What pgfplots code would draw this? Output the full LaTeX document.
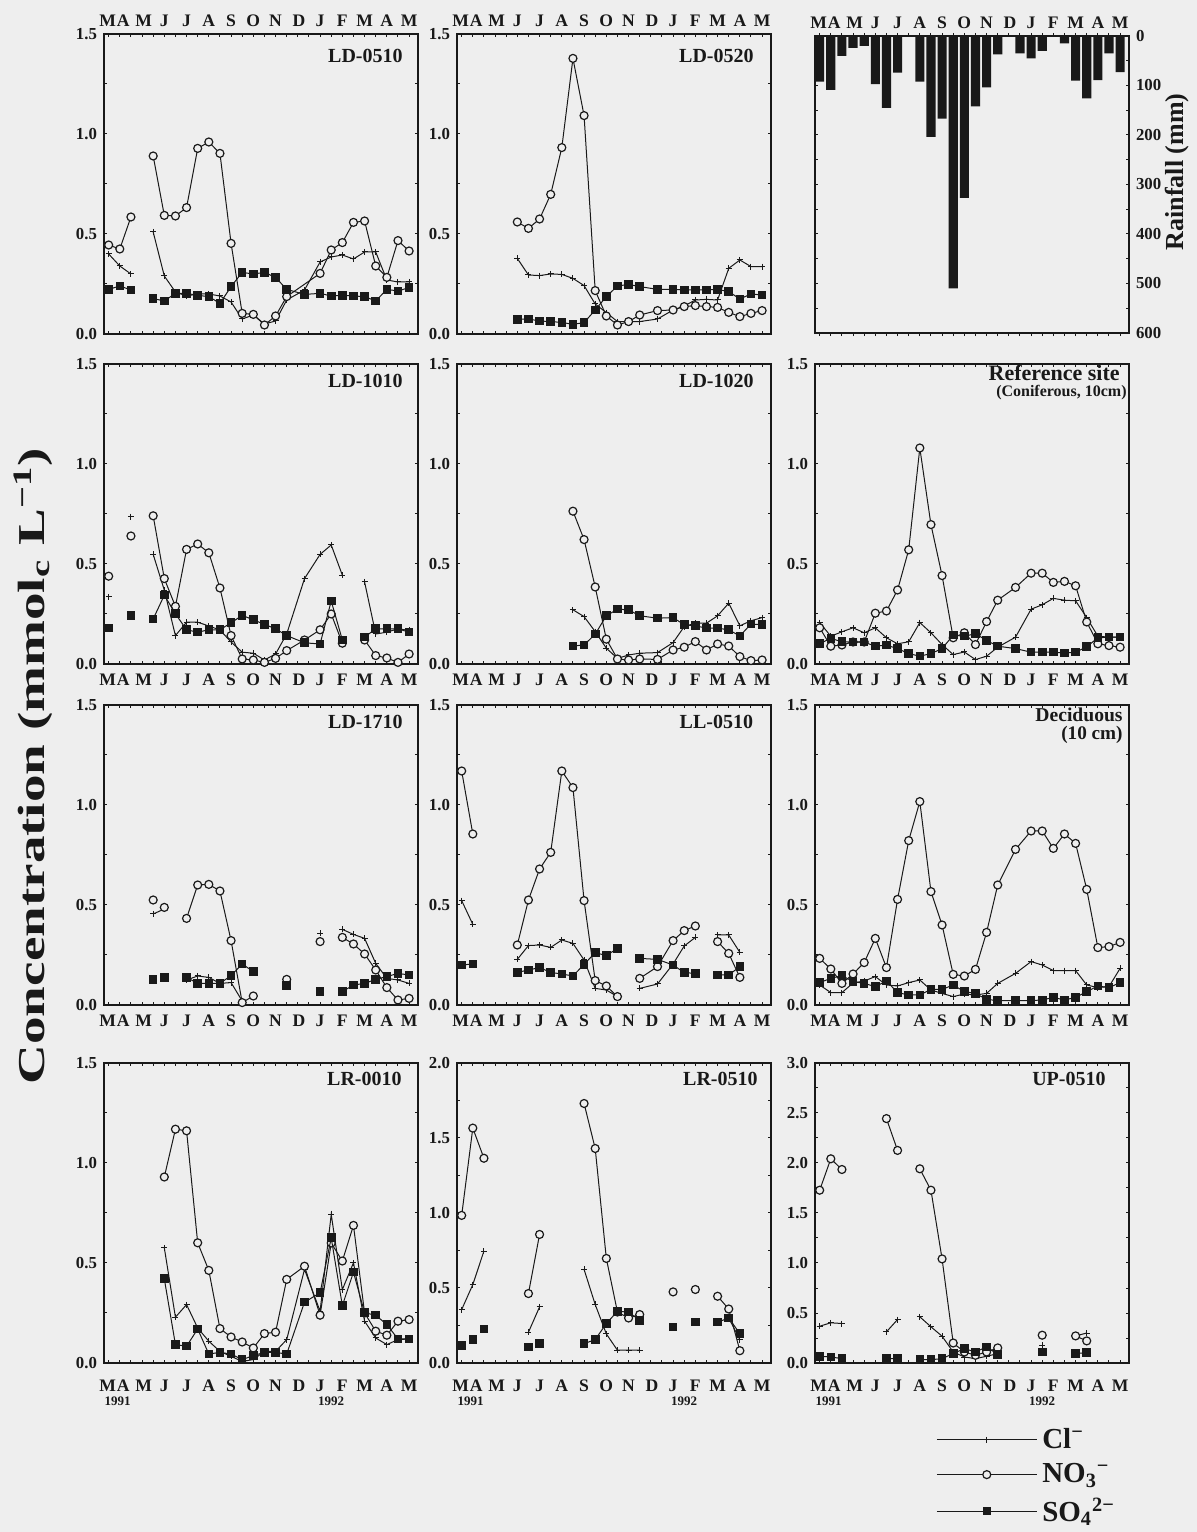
\documentclass[border=0pt]{standalone}
\usepackage{fontspec}
\setmainfont{Liberation Serif}
\usepackage{graphicx}
\usepackage{pgfplots}
\pgfplotsset{compat=1.18}

\definecolor{paper}{RGB}{238,238,238}
\definecolor{ink}{RGB}{25,25,25}

% semi-monthly sampling: index 0 = mid-March 1991, 27 = May 1992
\pgfplotsset{
  conc/.style={
    scale only axis, width=157pt, height=150pt,
    xmin=-0.42, xmax=27.8, ymin=0, ymax=1.5,
    axis line style={line width=0.6pt, draw=ink},
    xtick={-0.1,1.3,3.15,5,7,9,11,13,15,17.1,19,21,23,25,27},
    xticklabels={M,A,M,J,J,A,S,O,N,D,J,F,M,A,M},
    minor xtick={0,...,27},
    ytick={0,0.5,...,3},
    minor ytick={0,0.25,...,3},
    major tick length=0pt, minor tick length=1.6pt,
    tick style={ink, line width=0.5pt},
    xtick pos=both, ytick pos=both,
    xticklabel style={font=\bfseries\fontsize{8.8}{10}\selectfont, text=ink},
    yticklabel style={font=\bfseries\fontsize{8.4}{9}\selectfont, text=ink,
      /pgf/number format/fixed, /pgf/number format/fixed zerofill,
      /pgf/number format/precision=1},
    /pgf/number format/assume math mode=true,
    unbounded coords=jump,
    clip mode=individual,
  },
  toplab/.style={xticklabel pos=right},
  botlab/.style={xticklabel pos=left, xticklabel style={yshift=-1.5pt}},
  lowlab/.style={xticklabel pos=left, xticklabel style={yshift=-5pt}},
  clpl/.style={ink, line width=0.5pt, mark=+, mark size=1.5pt, mark options={line width=0.5pt}},
  nopl/.style={ink, line width=0.5pt, mark=*, mark size=2pt, mark options={fill=paper, draw=ink, line width=0.6pt}},
  sopl/.style={ink, line width=0.5pt, mark=square*, mark size=1.9pt, mark options={fill=ink, draw=ink}},
}

\newcommand{\paneltitle}[3]{%
  \node[anchor=north east, inner sep=0pt, xshift=#1, yshift=#2,
        font=\bfseries\fontsize{10}{12}\selectfont, text=ink] at (rel axis cs:1,1) {#3};}
\newcommand{\years}{%
  \node[font=\bfseries\fontsize{6.5}{7}\selectfont, text=ink, yshift=-19pt] at (axis cs:0.8,0) {1991};
  \node[font=\bfseries\fontsize{6.5}{7}\selectfont, text=ink, yshift=-19pt] at (axis cs:20,0) {1992};}

\pgfplotstableread{
idx rain
0 92
1 109
2 40
3 24
4 20
5 97
6 145
7 74
8 0
9 92
10 204
11 167
12 510
13 327
14 142
15 104
16 37
17 2
18 35
19 45
20 30
21 2
22 15
23 90
24 126
25 89
26 35
27 73
}\raintable

\begin{document}
\begin{tikzpicture}
\path[use as bounding box] (0,0) rectangle (598.5pt,766pt);
\fill[paper] (0,0) rectangle (598.5pt,766pt);

% ---------------- row 1 ----------------
\begin{axis}[conc, toplab, at={(52pt,599pt)}, anchor=south west]
\addplot[clpl] coordinates {(0,0.40)(1,0.34)(2,0.30)(3,nan)(4,0.51)(5,0.29)(6,0.21)(7,0.19)(8,0.20)(9,0.20)(10,0.19)(11,0.16)(12,0.075)(13,0.095)(14,0.05)(15,0.065)(16,0.17)(17.6,0.22)(19,0.36)(20,0.385)(21,0.395)(22,0.375)(23,0.41)(24,0.41)(25,0.27)(26,0.26)(27,0.26)};
\addplot[nopl] coordinates {(0,0.445)(1,0.425)(2,0.585)(3,nan)(4,0.89)(5,0.593)(6,0.59)(7,0.632)(8,0.928)(9,0.96)(10,0.903)(11,0.453)(12,0.103)(13,0.098)(14,0.045)(15,0.09)(16,0.187)(19,0.303)(20,0.42)(21,0.457)(22,0.558)(23,0.565)(24,0.34)(25,0.283)(26,0.467)(27,0.415)};
\addplot[sopl] coordinates {(0,0.223)(1,0.24)(2,0.22)(3,nan)(4,0.177)(5,0.165)(6,0.203)(7,0.203)(8,0.193)(9,0.187)(10,0.153)(11,0.237)(12,0.308)(13,0.30)(14,0.308)(15,0.283)(16,0.223)(17.6,0.198)(19,0.203)(20,0.19)(21,0.193)(22,0.19)(23,0.187)(24,0.165)(25,0.223)(26,0.215)(27,0.232)};
\paneltitle{-7.5pt}{-7.5pt}{LD-0510}
\end{axis}

\begin{axis}[conc, toplab, at={(228.5pt,599pt)}, anchor=south west]
\addplot[clpl] coordinates {(5,0.378)(6,0.295)(7,0.292)(8,0.30)(9,0.298)(10,0.278)(11,0.242)(12,0.15)(13,0.107)(14,0.062)(15,0.062)(16,0.062)(17.6,0.075)(19,0.12)(20,0.14)(21,0.17)(22,0.173)(23,0.17)(24,0.328)(25,0.37)(26,0.337)(27,0.337)};
\addplot[nopl] coordinates {(5,0.56)(6,0.528)(7,0.575)(8,0.698)(9,0.932)(10,1.378)(11,1.092)(12,0.217)(13,0.09)(14,0.045)(15,0.062)(16,0.095)(17.6,0.117)(19,0.12)(20,0.137)(21,0.142)(22,0.137)(23,0.133)(24,0.108)(25,0.087)(26,0.103)(27,0.117)};
\addplot[sopl] coordinates {(5,0.073)(6,0.075)(7,0.065)(8,0.062)(9,0.058)(10,0.048)(11,0.057)(12,0.12)(13,0.187)(14,0.24)(15,0.248)(16,0.237)(17.6,0.223)(19,0.223)(20,0.22)(21,0.22)(22,0.22)(23,0.223)(24,0.212)(25,0.175)(26,0.2)(27,0.195)};
\paneltitle{-8.5pt}{-7.5pt}{LD-0520}
\end{axis}

% rainfall, drawn downward from the top edge
\begin{axis}[
  scale only axis, width=157pt, height=148.5pt,
  at={(407.5pt,599.5pt)}, anchor=south west,
  xmin=-0.42, xmax=27.8, ymin=0, ymax=600, y dir=reverse,
  axis line style={line width=0.6pt, draw=ink},
  xtick={-0.1,1.3,3.15,5,7,9,11,13,15,17.1,19,21,23,25,27},
  xticklabels={M,A,M,J,J,A,S,O,N,D,J,F,M,A,M},
  minor xtick={0,...,27},
  xticklabel pos=right, xtick pos=both,
  ytick={0,100,...,600}, minor ytick={0,50,...,600},
  yticklabel pos=right, ytick pos=both,
  major tick length=0pt, minor tick length=1.6pt,
  tick style={ink, line width=0.5pt},
  xticklabel style={font=\bfseries\fontsize{8.8}{10}\selectfont, text=ink},
  yticklabel style={font=\bfseries\fontsize{8.4}{9}\selectfont, text=ink},
  /pgf/number format/assume math mode=true,
  ybar, bar width=0.82,
]
\addplot[fill=ink, draw=none] table[x=idx, y=rain] {\raintable};
\end{axis}
\node[rotate=90, font=\bfseries\fontsize{13}{15}\selectfont, text=ink] at (588.5pt,680pt) {Rainfall (mm)};

% ---------------- row 2 ----------------
\begin{axis}[conc, botlab, at={(52pt,434pt)}, anchor=south west]
\addplot[clpl] coordinates {(0,0.335)(1,nan)(2,0.737)(3,nan)(4,0.548)(5,0.369)(6,0.142)(7,0.209)(8,0.209)(9,0.19)(10,0.17)(11,0.11)(12,0.059)(13,0.054)(14,0.02)(15,0.05)(16,0.15)(17.6,0.427)(19,0.548)(20,0.595)(21,0.444)(22,nan)(23,0.41)(24,0.15)(25,0.159)(26,0.176)(27,0.168)};
\addplot[nopl] coordinates {(0,0.439)(1,nan)(2,0.64)(3,nan)(4,0.741)(5,0.427)(6,0.288)(7,0.573)(8,0.6)(9,0.556)(10,0.38)(11,0.142)(12,0.025)(13,0.02)(14,0.008)(15,0.028)(16,0.067)(17.6,0.12)(19,0.171)(20,0.25)(21,0.104)(22,nan)(23,0.12)(24,0.042)(25,0.03)(26,0.008)(27,0.05)};
\addplot[sopl] coordinates {(0,0.179)(1,nan)(2,0.243)(3,nan)(4,0.225)(5,0.344)(6,0.251)(7,0.171)(8,0.159)(9,0.171)(10,0.171)(11,0.206)(12,0.243)(13,0.221)(14,0.198)(15,0.176)(16,0.142)(17.6,0.106)(19,0.1)(20,0.315)(21,0.12)(22,nan)(23,0.134)(24,0.176)(25,0.176)(26,0.176)(27,0.159)};
\paneltitle{-7.5pt}{-5pt}{LD-1010}
\end{axis}

\begin{axis}[conc, botlab, at={(228.5pt,434pt)}, anchor=south west]
\addplot[clpl] coordinates {(10,0.271)(11,0.237)(12,0.162)(13,0.079)(14,0.028)(15,0.045)(16,0.054)(17.6,0.057)(19,0.107)(20,0.187)(21,0.204)(22,0.204)(23,0.241)(24,0.304)(25,0.191)(26,0.216)(27,0.232)};
\addplot[nopl] coordinates {(10,0.764)(11,0.622)(12,0.385)(13,0.124)(14,0.025)(15,0.02)(16,0.025)(17.6,0.023)(19,0.07)(20,0.084)(21,0.112)(22,0.07)(23,0.1)(24,0.09)(25,0.037)(26,0.017)(27,0.02)};
\addplot[sopl] coordinates {(10,0.09)(11,0.095)(12,0.149)(13,0.241)(14,0.274)(15,0.271)(16,0.241)(17.6,0.229)(19,0.232)(20,0.196)(21,0.191)(22,0.179)(23,0.179)(24,0.171)(25,0.14)(26,0.2)(27,0.196)};
\paneltitle{-8.5pt}{-5pt}{LD-1020}
\end{axis}

\begin{axis}[conc, botlab, at={(407.5pt,434pt)}, anchor=south west]
\addplot[clpl] coordinates {(0,0.207)(1,0.139)(2,0.161)(3,0.181)(4,0.156)(5,0.181)(6,0.131)(7,0.101)(8,0.111)(9,0.207)(10,0.156)(11,0.097)(12,0.047)(13,0.06)(14,0.022)(15,0.039)(16,0.084)(17.6,0.134)(19,0.274)(20,0.296)(21,0.328)(22,0.319)(23,0.316)(24,0.232)(25,0.139)(26,0.134)(27,0.134)};
\addplot[nopl] coordinates {(0,0.181)(1,0.089)(2,0.095)(3,0.11)(4,0.11)(5,0.254)(6,0.265)(7,0.37)(8,0.571)(9,1.08)(10,0.697)(11,0.442)(12,0.131)(13,0.156)(14,0.097)(15,0.212)(16,0.319)(17.6,0.383)(19,0.454)(20,0.454)(21,0.408)(22,0.413)(23,0.391)(24,0.21)(25,0.101)(26,0.092)(27,0.084)};
\addplot[sopl] coordinates {(0,0.102)(1,0.128)(2,0.111)(3,0.109)(4,0.109)(5,0.089)(6,0.094)(7,0.077)(8,0.052)(9,0.039)(10,0.052)(11,0.077)(12,0.144)(13,0.139)(14,0.151)(15,0.118)(16,0.089)(17.6,0.077)(19,0.059)(20,0.059)(21,0.059)(22,0.055)(23,0.059)(24,0.086)(25,0.131)(26,0.134)(27,0.134)};
\node[anchor=base east, inner sep=0pt, xshift=-4.5pt, yshift=-8.5pt,
      font=\bfseries\fontsize{11}{13}\selectfont, text=ink] at (rel axis cs:1,1) {Reference site};
\node[anchor=base east, inner sep=0pt, xshift=-1pt, yshift=-16.5pt,
      font=\bfseries\fontsize{8}{10}\selectfont, text=ink] at (rel axis cs:1,1) {(Coniferous, 10cm)};
\end{axis}

% ---------------- row 3 ----------------
\begin{axis}[conc, botlab, at={(52pt,263.5pt)}, anchor=south west]
\addplot[clpl] coordinates {(4,0.455)(5,0.48)(6,nan)(7,0.125)(8,0.145)(9,0.138)(10,0.108)(11,0.112)(12,0.02)(13,nan)(19,0.358)(20,nan)(21,0.378)(22,0.353)(23,0.333)(24,0.208)(25,0.133)(26,0.125)(27,0.108)};
\addplot[nopl] coordinates {(4,0.525)(4.5,nan)(5,0.488)(6,nan)(7,0.433)(8,0.6)(9,0.603)(10,0.57)(11,0.322)(12,0.012)(13,0.045)(14,nan)(16,0.128)(17,nan)(19,0.317)(20,nan)(21,0.338)(22,0.305)(23,0.255)(24,0.175)(25,0.087)(26,0.025)(27,0.033)};
\addplot[sopl] coordinates {(4,0.128)(4.5,nan)(5,0.137)(6,nan)(7,0.138)(8,0.108)(9,0.108)(10,0.108)(11,0.147)(12,0.205)(13,0.167)(14,nan)(16,0.097)(17,nan)(19,0.067)(20,nan)(21,0.067)(22,0.1)(23,0.108)(24,0.128)(25,0.142)(26,0.158)(27,0.15)};
\paneltitle{-7.5pt}{-5pt}{LD-1710}
\end{axis}

\begin{axis}[conc, botlab, at={(228.5pt,263.5pt)}, anchor=south west]
\addplot[clpl] coordinates {(0,0.522)(1,0.403)(2,nan)(5,0.228)(6,0.297)(7,0.3)(8,0.288)(9,0.325)(10,0.308)(11,0.225)(12,0.083)(13,0.075)(14,0.042)(15,nan)(16,0.083)(17.6,0.105)(19,0.205)(20,0.295)(21,0.338)(22,nan)(23,0.35)(24,0.35)(25,0.263)};
\addplot[nopl] coordinates {(0,1.17)(1,0.855)(2,nan)(5,0.3)(6,0.525)(7,0.68)(8,0.763)(9,1.17)(10,1.087)(11,0.522)(12,0.122)(13,0.095)(14,0.042)(15,nan)(16,0.133)(17.6,0.192)(19,0.322)(20,0.372)(21,0.395)(22,nan)(23,0.317)(24,0.258)(25,0.138)};
\addplot[sopl] coordinates {(0,0.2)(1,0.205)(2,nan)(5,0.163)(6,0.175)(7,0.187)(8,0.163)(9,0.155)(10,0.145)(11,0.203)(12,0.262)(13,0.247)(14,0.283)(15,nan)(16,0.233)(17.6,0.228)(19,0.2)(20,0.162)(21,0.158)(22,nan)(23,0.15)(24,0.15)(25,0.192)};
\paneltitle{-8.8pt}{-5pt}{LL-0510}
\end{axis}

\begin{axis}[conc, botlab, at={(407.5pt,263.5pt)}, anchor=south west]
\addplot[clpl] coordinates {(0,0.1)(1,0.062)(2,0.062)(3,0.11)(4,0.12)(5,0.142)(6,0.1)(7,0.095)(8,0.112)(9,0.125)(10,0.075)(11,0.058)(12,0.042)(13,0.055)(14,0.05)(15,0.058)(16,0.108)(17.6,0.158)(19,0.217)(20,0.2)(21,0.172)(22,0.172)(23,0.172)(24,0.1)(25,0.087)(26,0.092)(27,0.183)};
\addplot[nopl] coordinates {(0,0.233)(1,0.18)(2,0.108)(3,0.155)(4,0.212)(5,0.333)(6,0.187)(7,0.528)(8,0.822)(9,1.017)(10,0.567)(11,0.4)(12,0.153)(13,0.145)(14,0.178)(15,0.363)(16,0.6)(17.6,0.778)(19,0.87)(20,0.87)(21,0.783)(22,0.855)(23,0.808)(24,0.578)(25,0.287)(26,0.292)(27,0.313)};
\addplot[sopl] coordinates {(0,0.112)(1,0.133)(2,0.147)(3,0.117)(4,0.108)(5,0.092)(6,0.12)(7,0.062)(8,0.05)(9,0.05)(10,0.078)(11,0.078)(12,0.1)(13,0.067)(14,0.058)(15,0.028)(16,0.022)(17.6,0.022)(19,0.022)(20,0.025)(21,0.038)(22,0.025)(23,0.038)(24,0.067)(25,0.095)(26,0.087)(27,0.112)};
\node[anchor=base east, inner sep=0pt, xshift=-3pt, yshift=-8.5pt,
      font=\bfseries\fontsize{9.8}{12}\selectfont, text=ink] at (rel axis cs:1,1) {Deciduous};
\node[anchor=base east, inner sep=0pt, xshift=-3pt, yshift=-17.5pt,
      font=\bfseries\fontsize{9.6}{12}\selectfont, text=ink] at (rel axis cs:1,1) {(10 cm)};
\end{axis}

% ---------------- row 4 ----------------
\begin{axis}[conc, lowlab, at={(52pt,84.5pt)}, anchor=south west]
\addplot[clpl] coordinates {(5,0.576)(6,0.229)(7,0.292)(8,0.175)(9,0.109)(10,0.058)(11,0.033)(12,0.008)(13,0.017)(14,0.058)(15,0.058)(16,0.117)(17.6,0.468)(19,0.259)(20,0.743)(21,0.367)(22,0.501)(23,0.209)(24,0.125)(25,0.092)(26,0.117)(27,0.12)};
\addplot[nopl] coordinates {(5,0.93)(6,1.169)(7,1.161)(8,0.601)(9,0.463)(10,0.172)(11,0.13)(12,0.105)(13,0.075)(14,0.147)(15,0.154)(16,0.418)(17.6,0.484)(19,0.239)(20,0.6)(21,0.51)(22,0.688)(23,0.25)(24,0.159)(25,0.139)(26,0.209)(27,0.217)};
\addplot[sopl] coordinates {(5,0.421)(6,0.092)(7,0.084)(8,0.17)(9,0.045)(10,0.053)(11,0.045)(12,0.017)(13,0.037)(14,0.053)(15,0.053)(16,0.045)(17.6,0.304)(19,0.351)(20,0.626)(21,0.287)(22,0.454)(23,0.251)(24,0.239)(25,0.192)(26,0.12)(27,0.12)};
\paneltitle{-8pt}{-4.5pt}{LR-0010}
\years
\end{axis}

\begin{axis}[conc, lowlab, at={(228.5pt,84.5pt)}, anchor=south west, ymax=2]
\addplot[clpl] coordinates {(0,0.356)(1,0.523)(2,0.746)(3,nan)(6,0.205)(7,0.374)(8,nan)(11,0.624)(12,0.39)(13,0.194)(14,0.085)(15,0.085)(16,0.085)(17,nan)(24,0.3)(25,0.156)};
\addplot[nopl] coordinates {(0,0.984)(1,1.566)(2,1.365)(3,nan)(6,0.463)(7,0.857)(8,nan)(11,1.73)(12,1.43)(13,0.697)(14,0.34)(15,0.3)(16,0.323)(17,nan)(19,0.474)(20,nan)(21,0.49)(22,nan)(23,0.445)(24,0.36)(25,0.082)};
\addplot[sopl] coordinates {(0,0.116)(0.5,nan)(1,0.156)(1.5,nan)(2,0.227)(3,nan)(6,0.107)(6.5,nan)(7,0.129)(8,nan)(11,0.129)(12,0.156)(13,0.263)(14,0.345)(15,0.339)(16,0.285)(17,nan)(19,0.24)(20,nan)(21,0.272)(22,nan)(23,0.272)(24,0.3)(25,0.196)};
\paneltitle{-6.5pt}{-4.5pt}{LR-0510}
\years
\end{axis}

\begin{axis}[conc, lowlab, at={(407.5pt,84.5pt)}, anchor=south west, ymax=3,
  legend style={at={(0.385,-0.2)}, anchor=north west, draw=none, fill=none,
    font=\bfseries\fontsize{14.5}{16.5}\selectfont, text=ink, row sep=1pt,
    inner sep=0pt, nodes={inner sep=2.5pt}},
  legend cell align=left,
  legend image code/.code={\draw[mark repeat=2,mark phase=2,#1] plot coordinates {(0pt,0pt) (25pt,0pt) (50pt,0pt)};},
]
\addplot[clpl] coordinates {(0,0.368)(1,0.402)(2,0.395)(3,nan)(6,0.311)(7,0.435)(8,nan)(9,0.462)(10,0.362)(11,0.268)(12,0.11)(13,0.06)(14,0.044)(15,0.067)(16,0.094)(17,nan)(20,0.177)(21,nan)(23,0.27)(24,0.3)};
\addlegendentry{Cl\textsuperscript{−}}
\addplot[nopl] coordinates {(0,1.728)(1,2.042)(2,1.935)(3,nan)(6,2.444)(7,2.126)(8,nan)(9,1.942)(10,1.728)(11,1.041)(12,0.2)(13,0.11)(14,0.077)(15,0.11)(16,0.151)(17,nan)(20,0.278)(21,nan)(23,0.271)(24,0.221)};
\addlegendentry{NO\textsubscript{3}\textsuperscript{−}}
\addplot[sopl] coordinates {(0,0.067)(1,0.06)(2,0.044)(3,nan)(6,0.044)(7,0.044)(8,nan)(9,0.033)(10,0.033)(11,0.044)(12,0.094)(13,0.144)(14,0.11)(15,0.161)(16,0.087)(17,nan)(20,0.11)(21,nan)(23,0.094)(24,0.104)};
\addlegendentry{SO\textsubscript{4}\textsuperscript{2−}}
\paneltitle{-11.5pt}{-4.5pt}{UP-0510}
\years
\end{axis}

\node[rotate=90, font=\bfseries\fontsize{19}{23}\selectfont, text=ink] at (16.5pt,383pt)
  {\scalebox{1.45}[1]{Concentration (mmol\textsubscript{c} L\textsuperscript{−1})}};
\end{tikzpicture}
\end{document}
